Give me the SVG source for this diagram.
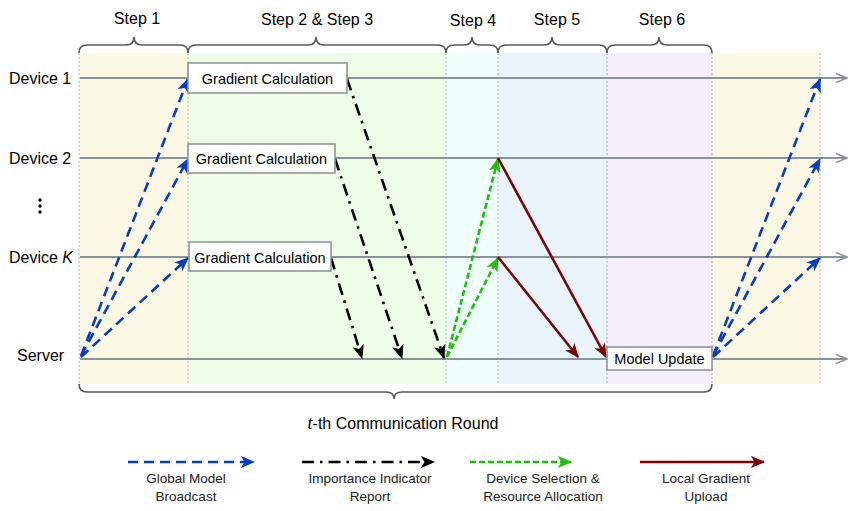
<svg xmlns="http://www.w3.org/2000/svg" width="858" height="511" viewBox="0 0 858 511">
<defs>
<style>
text{font-family:"Liberation Sans",Arial,sans-serif;fill:#000}
.lbl{font-size:16px}
.box{fill:#fff;stroke:#8a8f92;stroke-width:1.5}
.bt{font-size:14.5px;text-anchor:middle}
.lg{font-size:13.5px;text-anchor:middle;fill:#222}
.sep{stroke:#a9aeb1;stroke-width:1;stroke-dasharray:2,2}
.tl{stroke:#8a9397;stroke-width:2;fill:none}
.brace{stroke:#5a5a5a;stroke-width:1.6;fill:none}
.blue{stroke:#0a3cc2;stroke-width:2.6;fill:none;stroke-dasharray:10,6}
.blk{stroke:#000;stroke-width:2.6;fill:none;stroke-dasharray:12,6,2.5,6}
.grn{stroke:#22bb0e;stroke-width:2.6;fill:none;stroke-dasharray:6,3}
.red{stroke:#7b0505;stroke-width:2.6;fill:none}
</style>
<marker id="mb" viewBox="0 0 12 10" refX="11" refY="5" markerWidth="5.5" markerHeight="5" markerUnits="strokeWidth" orient="auto"><path d="M0,0 L12,5 L0,10 L3,5z" fill="#0a3cc2"/></marker>
<marker id="mk" viewBox="0 0 12 10" refX="11" refY="5" markerWidth="5.5" markerHeight="5" markerUnits="strokeWidth" orient="auto"><path d="M0,0 L12,5 L0,10 L3,5z" fill="#000"/></marker>
<marker id="mg" viewBox="0 0 12 10" refX="11" refY="5" markerWidth="5.5" markerHeight="5" markerUnits="strokeWidth" orient="auto"><path d="M0,0 L12,5 L0,10 L3,5z" fill="#22bb0e"/></marker>
<marker id="mr" viewBox="0 0 12 10" refX="11" refY="5" markerWidth="5.5" markerHeight="5" markerUnits="strokeWidth" orient="auto"><path d="M0,0 L12,5 L0,10 L3,5z" fill="#7b0505"/></marker>
<marker id="mgy" viewBox="0 0 12 10" refX="11" refY="5" markerWidth="6" markerHeight="5" markerUnits="strokeWidth" orient="auto"><path d="M0,0.5 L11,5 L0,9.5" fill="none" stroke="#8a9397" stroke-width="1.6"/></marker>
</defs>

<g id="backgrounds">
<rect x="79" y="53" width="109" height="331" fill="#fbf8e6"/>
<rect x="188" y="53" width="258" height="331" fill="#edfde8"/>
<rect x="446" y="53" width="52" height="331" fill="#effffb"/>
<rect x="498" y="53" width="109" height="331" fill="#e9f4fd"/>
<rect x="607" y="53" width="105" height="331" fill="#f5eefd"/>
<rect x="712" y="53" width="108" height="331" fill="#fbf8e6"/>
<line class="sep" x1="79" y1="53" x2="79" y2="384"/>
<line class="sep" x1="188" y1="53" x2="188" y2="384"/>
<line class="sep" x1="446" y1="53" x2="446" y2="384"/>
<line class="sep" x1="498" y1="53" x2="498" y2="384"/>
<line class="sep" x1="607" y1="53" x2="607" y2="384"/>
<line class="sep" x1="712" y1="53" x2="712" y2="384"/>
<line class="sep" x1="820" y1="53" x2="820" y2="384"/>
</g>

<g id="braces">
<path class="brace" d="M79,53 Q79,45 87,45 L126,45 Q134,45 134,37 Q134,45 142,45 L180,45 Q188,45 188,53"/>
<path class="brace" d="M188,53 Q188,45 196,45 L308,45 Q316,45 316,37 Q316,45 324,45 L438,45 Q446,45 446,53"/>
<path class="brace" d="M446,53 Q446,45 454,45 L464,45 Q472,45 472,37 Q472,45 480,45 L490,45 Q498,45 498,53"/>
<path class="brace" d="M498,53 Q498,45 506,45 L544,45 Q552,45 552,37 Q552,45 560,45 L599,45 Q607,45 607,53"/>
<path class="brace" d="M607,53 Q607,45 615,45 L651,45 Q659,45 659,37 Q659,45 667,45 L704,45 Q712,45 712,53"/>
<path class="brace" d="M79,384 Q79,392 87,392 L386,392 Q394,392 394,399 Q394,392 402,392 L704,392 Q712,392 712,384"/>
<text class="lbl" x="137" y="24" text-anchor="middle">Step 1</text>
<text class="lbl" x="317" y="25" text-anchor="middle">Step 2 &amp; Step 3</text>
<text class="lbl" x="473" y="26" text-anchor="middle">Step 4</text>
<text class="lbl" x="557" y="25" text-anchor="middle">Step 5</text>
<text class="lbl" x="662" y="25" text-anchor="middle">Step 6</text>
<text class="lbl" x="403" y="429" text-anchor="middle" font-size="16.5"><tspan font-family="Liberation Serif" font-style="italic" font-size="18">t</tspan>-th Communication Round</text>
</g>

<g id="timelines">
<line class="tl" x1="80" y1="78" x2="847" y2="78" marker-end="url(#mgy)"/>
<line class="tl" x1="80" y1="158" x2="847" y2="158" marker-end="url(#mgy)"/>
<line class="tl" x1="80" y1="257" x2="847" y2="257" marker-end="url(#mgy)"/>
<line class="tl" x1="80" y1="359" x2="847" y2="359" marker-end="url(#mgy)"/>
<text class="lbl" x="9" y="84">Device 1</text>
<text class="lbl" x="9" y="164">Device 2</text>
<text class="lbl" x="9" y="263">Device <tspan font-style="italic">K</tspan></text>
<text class="lbl" x="17" y="361">Server</text>
<circle cx="40" cy="200" r="1.7" fill="#000"/>
<circle cx="40" cy="206" r="1.7" fill="#000"/>
<circle cx="40" cy="212" r="1.7" fill="#000"/>
</g>

<g id="connectors">
<line class="blue" x1="81" y1="356" x2="188" y2="79" marker-end="url(#mb)"/>
<line class="blue" x1="81" y1="356" x2="188" y2="159" marker-end="url(#mb)"/>
<line class="blue" x1="81" y1="357" x2="188" y2="258" marker-end="url(#mb)"/>
<line class="blue" x1="713" y1="356" x2="820" y2="79" marker-end="url(#mb)"/>
<line class="blue" x1="713" y1="356" x2="820" y2="159" marker-end="url(#mb)"/>
<line class="blue" x1="713" y1="357" x2="820" y2="258" marker-end="url(#mb)"/>
<line class="blk" x1="331" y1="258" x2="362" y2="358" marker-end="url(#mk)"/>
<line class="blk" x1="335" y1="159" x2="402" y2="358" marker-end="url(#mk)"/>
<line class="blk" x1="347" y1="79" x2="444" y2="358" marker-end="url(#mk)"/>
<line class="grn" x1="447" y1="357" x2="498" y2="159" marker-end="url(#mg)"/>
<line class="grn" x1="447" y1="357" x2="498" y2="258" marker-end="url(#mg)"/>
<line class="red" x1="498" y1="158" x2="606" y2="357" marker-end="url(#mr)"/>
<line class="red" x1="498" y1="257" x2="578" y2="357" marker-end="url(#mr)"/>
</g>

<g id="node-grad1">
<rect class="box" x="188" y="63" width="159" height="30"/>
<text class="bt" x="267.5" y="83.5">Gradient Calculation</text>
</g>
<g id="node-grad2">
<rect class="box" x="188" y="144" width="147" height="29"/>
<text class="bt" x="261.5" y="164">Gradient Calculation</text>
</g>
<g id="node-gradK">
<rect class="box" x="189" y="242" width="142" height="29"/>
<text class="bt" x="260" y="262.5">Gradient Calculation</text>
</g>
<g id="node-update">
<rect class="box" x="607" y="347" width="105" height="23"/>
<text class="bt" x="659.5" y="363.5">Model Update</text>
</g>

<g id="legend">
<line class="blue" x1="128" y1="462" x2="254" y2="462" marker-end="url(#mb)"/>
<line class="blk" x1="302" y1="462" x2="434" y2="462" marker-end="url(#mk)"/>
<line class="grn" x1="470" y1="462" x2="571" y2="462" marker-end="url(#mg)"/>
<line class="red" x1="640" y1="462" x2="764" y2="462" marker-end="url(#mr)"/>
<text class="lg" x="186" y="483">Global Model</text>
<text class="lg" x="186" y="501">Broadcast</text>
<text class="lg" x="370" y="483">Importance Indicator</text>
<text class="lg" x="370" y="501">Report</text>
<text class="lg" x="543" y="483">Device Selection &amp;</text>
<text class="lg" x="543" y="501">Resource Allocation</text>
<text class="lg" x="706" y="483">Local Gradient</text>
<text class="lg" x="706" y="501">Upload</text>
</g>
</svg>
